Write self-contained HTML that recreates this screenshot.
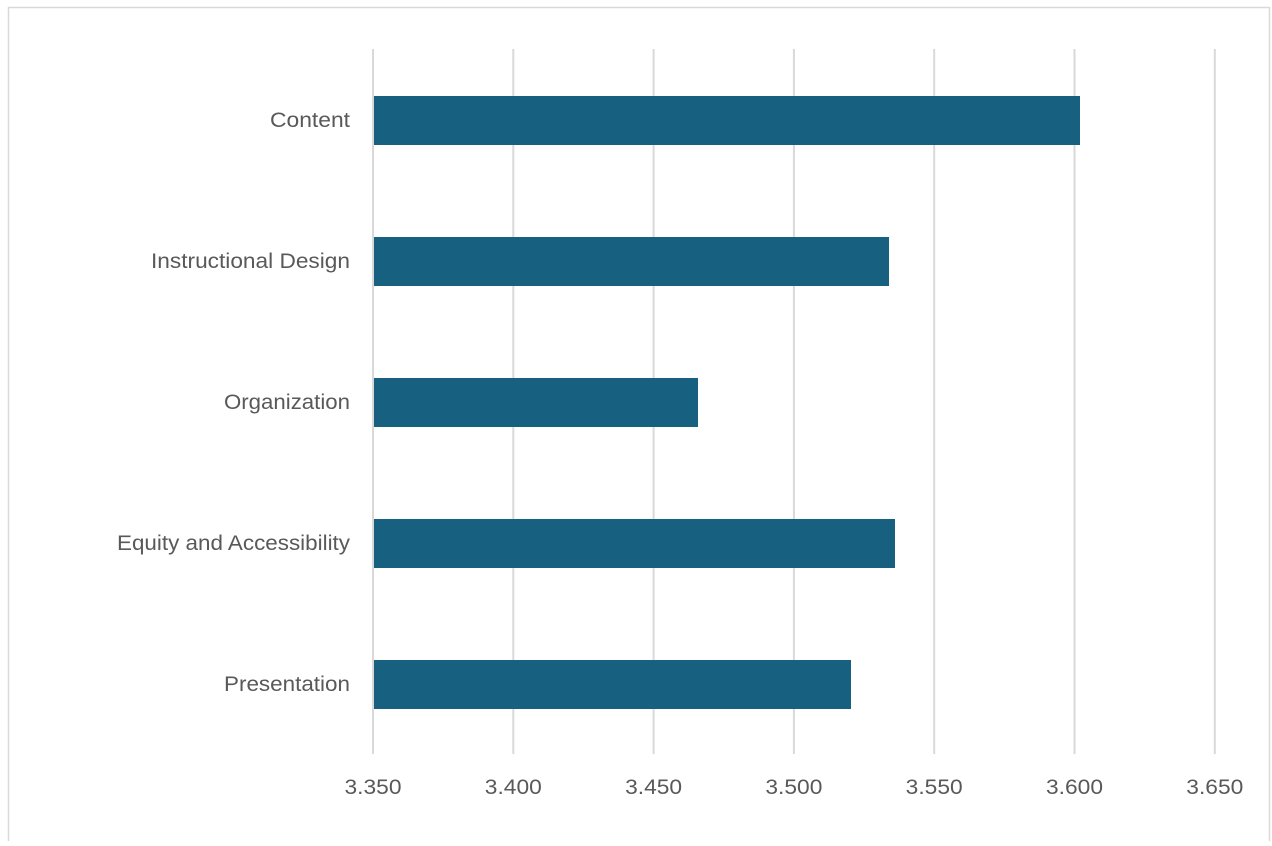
<!DOCTYPE html>
<html><head><style>html,body{margin:0;padding:0;background:#fff;}</style></head>
<body>
<svg width="1272" height="841" xmlns="http://www.w3.org/2000/svg" font-family="'Liberation Sans', sans-serif">
<rect x="8.5" y="7.5" width="1261" height="850" fill="#fff" stroke="#d9d9d9" stroke-width="1.5"/>
<g stroke="#d9d9d9" stroke-width="2">
<line x1="373" y1="49" x2="373" y2="754"/>
<line x1="513.3" y1="49" x2="513.3" y2="754"/>
<line x1="653.6" y1="49" x2="653.6" y2="754"/>
<line x1="793.9" y1="49" x2="793.9" y2="754"/>
<line x1="934.2" y1="49" x2="934.2" y2="754"/>
<line x1="1074.5" y1="49" x2="1074.5" y2="754"/>
<line x1="1214.8" y1="49" x2="1214.8" y2="754"/>
</g>
<g fill="#17607f">
<rect x="374" y="96" width="706" height="49"/>
<rect x="374" y="237" width="515" height="49"/>
<rect x="374" y="378" width="324" height="49"/>
<rect x="374" y="519" width="521" height="49"/>
<rect x="374" y="660" width="477" height="49"/>
</g>
<g fill="#595959" font-size="21" text-anchor="end">
<text x="350" y="127" textLength="80" lengthAdjust="spacingAndGlyphs">Content</text>
<text x="350" y="268" textLength="199" lengthAdjust="spacingAndGlyphs">Instructional Design</text>
<text x="350" y="409" textLength="126" lengthAdjust="spacingAndGlyphs">Organization</text>
<text x="350" y="550" textLength="233" lengthAdjust="spacingAndGlyphs">Equity and Accessibility</text>
<text x="350" y="691" textLength="126" lengthAdjust="spacingAndGlyphs">Presentation</text>
</g>
<g fill="#595959" font-size="21" text-anchor="middle">
<text x="373" y="794" textLength="57" lengthAdjust="spacingAndGlyphs">3.350</text>
<text x="513.3" y="794" textLength="57" lengthAdjust="spacingAndGlyphs">3.400</text>
<text x="653.6" y="794" textLength="57" lengthAdjust="spacingAndGlyphs">3.450</text>
<text x="793.9" y="794" textLength="57" lengthAdjust="spacingAndGlyphs">3.500</text>
<text x="934.2" y="794" textLength="57" lengthAdjust="spacingAndGlyphs">3.550</text>
<text x="1074.5" y="794" textLength="57" lengthAdjust="spacingAndGlyphs">3.600</text>
<text x="1214.8" y="794" textLength="57" lengthAdjust="spacingAndGlyphs">3.650</text>
</g>
</svg>
</body></html>
